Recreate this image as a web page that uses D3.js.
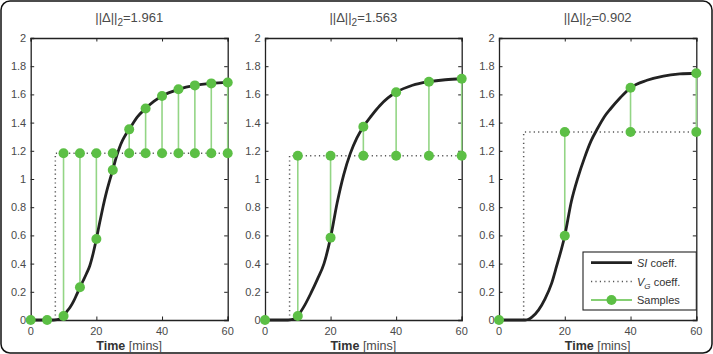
<!DOCTYPE html>
<html>
<head>
<meta charset="utf-8">
<script src="https://cdn.jsdelivr.net/npm/d3@7"></script>
<style>
  html, body { margin: 0; padding: 0; background: #fff; }
  svg { display: block; font-family: "Liberation Sans", Arial, Helvetica, sans-serif; }
</style>
</head>
<body>
<svg id="chart" width="713" height="354"></svg>
<script>
// ---------- DATA ----------
const titles = ["1.961", "1.563", "0.902"];
const xTicks = [0, 20, 40, 60];
const yTicks = [0, 0.2, 0.4, 0.6, 0.8, 1, 1.2, 1.4, 1.6, 1.8, 2];
const yTickLabels = ["0", "0.2", "0.4", "0.6", "0.8", "1", "1.2", "1.4", "1.6", "1.8", "2"];

// SI coefficient curves (time in mins, value)
const siTime1 = [0, 7, 8, 9, 10, 11, 12, 13, 14, 15, 16, 17, 18, 19, 20, 21, 22, 23, 24, 25, 26, 27, 28, 29, 30, 32.5, 35, 37.5, 40, 45, 50, 55, 60];
const siVal1  = [0, 0, 0.002, 0.01, 0.03, 0.06, 0.09, 0.13, 0.18, 0.232, 0.28, 0.33, 0.385, 0.47, 0.574, 0.69, 0.80, 0.90, 0.985, 1.064, 1.15, 1.22, 1.275, 1.318, 1.352, 1.44, 1.50, 1.55, 1.589, 1.636, 1.664, 1.678, 1.685];
const siTime2 = [0, 7, 8, 9, 10, 12, 14, 16, 18, 20, 22, 24, 26, 28, 30, 32.5, 35, 37.5, 40, 45, 50, 55, 60];
const siVal2  = [0, 0, 0.002, 0.01, 0.03, 0.10, 0.19, 0.29, 0.40, 0.584, 0.83, 1.03, 1.18, 1.29, 1.371, 1.45, 1.52, 1.575, 1.615, 1.665, 1.69, 1.704, 1.711];
const siTime3 = [0, 8, 9, 10, 12, 14, 16, 17.5, 20, 22, 24, 26, 28, 30, 32, 34, 37, 40, 45, 50, 55, 60];
const siVal3  = [0, 0, 0.005, 0.02, 0.07, 0.15, 0.26, 0.38, 0.598, 0.84, 1.01, 1.15, 1.27, 1.36, 1.44, 1.50, 1.58, 1.647, 1.70, 1.73, 1.745, 1.75];

// V_G coefficient step (onset time, level)
const vgOnset = [7.5, 7.5, 7.5];
const vgLevel = [1.182, 1.165, 1.333];

// Samples: times, SI value at sample, V_G value at sample
const sampleTime1 = [0, 5, 10, 15, 20, 25, 30, 35, 40, 45, 50, 55, 60];
const sampleSI1   = [0, 0, 0.028, 0.232, 0.574, 1.064, 1.352, 1.50, 1.589, 1.636, 1.664, 1.678, 1.685];
const sampleVG1   = [0, 0, 1.182, 1.182, 1.182, 1.182, 1.182, 1.182, 1.182, 1.182, 1.182, 1.182, 1.182];
const sampleTime2 = [0, 10, 20, 30, 40, 50, 60];
const sampleSI2   = [0, 0.028, 0.584, 1.371, 1.615, 1.69, 1.711];
const sampleVG2   = [0, 1.165, 1.165, 1.165, 1.165, 1.165, 1.165];
const sampleTime3 = [0, 20, 40, 60];
const sampleSI3   = [0, 0.598, 1.647, 1.75];
const sampleVG3   = [0, 1.333, 1.333, 1.333];

const legendLabels = ["SI", "coeff.", "V", "G", "coeff.", "Samples"];

// ---------- LAYOUT ----------
const panels = [
  {x0: 30.7, x1: 227.7, siT: siTime1, siV: siVal1, sT: sampleTime1, sSI: sampleSI1, sVG: sampleVG1},
  {x0: 265,  x1: 461.7, siT: siTime2, siV: siVal2, sT: sampleTime2, sSI: sampleSI2, sVG: sampleVG2},
  {x0: 499,  x1: 696.3, siT: siTime3, siV: siVal3, sT: sampleTime3, sSI: sampleSI3, sVG: sampleVG3}
];
const yTop = 38, yBot = 320;
const markerColor = "#5cbf45";
const stemColor = "#93d585";
const textColor = "#4a4a4a";
const axisColor = "#222";

const svg = d3.select("#chart");

// outer frame
svg.append("rect").attr("x", 1).attr("y", 1).attr("width", 711).attr("height", 352)
  .attr("rx", 9).attr("fill", "none").attr("stroke", "#111").attr("stroke-width", 1.5);

panels.forEach((p, i) => {
  const x = d3.scaleLinear().domain([0, 60]).range([p.x0, p.x1]);
  const y = d3.scaleLinear().domain([0, 2]).range([yBot, yTop]);
  const g = svg.append("g");

  // axes box with inward ticks
  const tl = 3.5;
  const axB = g.append("g").attr("transform", `translate(0,${yBot})`)
    .call(d3.axisBottom(x).tickValues(xTicks).tickSize(-tl).tickFormat(""));
  const axT = g.append("g").attr("transform", `translate(0,${yTop})`)
    .call(d3.axisTop(x).tickValues(xTicks).tickSize(-tl).tickFormat(""));
  const axL = g.append("g").attr("transform", `translate(${p.x0},0)`)
    .call(d3.axisLeft(y).tickValues(yTicks).tickSize(-tl).tickFormat(""));
  const axR = g.append("g").attr("transform", `translate(${p.x1},0)`)
    .call(d3.axisRight(y).tickValues(yTicks).tickSize(-tl).tickFormat(""));
  [axB, axT, axL, axR].forEach(a => {
    a.select(".domain").attr("stroke", axisColor).attr("stroke-width", 1.3);
    a.selectAll(".tick line").attr("stroke", axisColor).attr("stroke-width", 1);
  });

  // tick labels
  g.selectAll(".xlab").data(xTicks).enter().append("text")
    .attr("x", d => x(d)).attr("y", 335).attr("text-anchor", "middle")
    .attr("font-size", 11).attr("fill", textColor).text(d => d);
  g.selectAll(".ylab").data(yTicks).enter().append("text")
    .attr("x", p.x0 - 4.5).attr("y", d => y(d) + 4).attr("text-anchor", "end")
    .attr("font-size", 11).attr("fill", textColor).text((d, k) => yTickLabels[k]);

  // x axis label
  const xl = g.append("text").attr("x", (p.x0 + p.x1) / 2).attr("y", 350)
    .attr("text-anchor", "middle").attr("font-size", 12.5).attr("fill", "#333");
  xl.append("tspan").attr("font-weight", "bold").text("Time");
  xl.append("tspan").attr("fill", textColor).text(" [mins]");

  // title
  const tt = g.append("text").attr("x", (p.x0 + p.x1) / 2).attr("y", 22)
    .attr("text-anchor", "middle").attr("font-size", 13).attr("fill", textColor);
  tt.append("tspan").text("||\u0394||");
  tt.append("tspan").attr("font-size", 10).attr("dy", 4).text("2");
  tt.append("tspan").attr("dy", -4).text("=" + titles[i]);

  // V_G coefficient (dotted step)
  const vgPts = [[vgOnset[i], 0], [vgOnset[i], vgLevel[i]], [60, vgLevel[i]]];
  g.append("path").datum(vgPts)
    .attr("d", d3.line().x(d => x(d[0])).y(d => y(d[1])))
    .attr("fill", "none").attr("stroke", "#555").attr("stroke-width", 1.5)
    .attr("stroke-dasharray", "1.2,3.2");

  // stems
  g.selectAll(".stem").data(p.sT.map((t, k) => ({t, a: p.sSI[k], b: p.sVG[k]})))
    .enter().append("line")
    .attr("x1", d => x(d.t)).attr("x2", d => x(d.t))
    .attr("y1", d => y(d.a)).attr("y2", d => y(d.b))
    .attr("stroke", stemColor).attr("stroke-width", 1.6);

  // SI curve
  const siPts = p.siT.map((t, k) => [t, p.siV[k]]);
  g.append("path").datum(siPts)
    .attr("d", d3.line().x(d => x(d[0])).y(d => y(d[1])).curve(d3.curveMonotoneX))
    .attr("fill", "none").attr("stroke", "#222").attr("stroke-width", 2.8)
    .attr("stroke-linejoin", "round");

  // markers
  const markers = [];
  p.sT.forEach((t, k) => {
    markers.push([t, p.sVG[k]]);
    if (p.sSI[k] !== p.sVG[k]) markers.push([t, p.sSI[k]]);
  });
  g.selectAll(".mk").data(markers).enter().append("circle")
    .attr("cx", d => x(d[0])).attr("cy", d => y(d[1])).attr("r", 5)
    .attr("fill", markerColor);
});

// legend
const lg = svg.append("g");
lg.append("rect").attr("x", 583).attr("y", 252).attr("width", 113.3).attr("height", 58)
  .attr("fill", "#fff").attr("stroke", "#222").attr("stroke-width", 1.1);
const rowY = [262.7, 281.5, 300];
lg.append("line").attr("x1", 591).attr("x2", 632).attr("y1", rowY[0]).attr("y2", rowY[0])
  .attr("stroke", "#222").attr("stroke-width", 2.8);
lg.append("line").attr("x1", 591).attr("x2", 632).attr("y1", rowY[1]).attr("y2", rowY[1])
  .attr("stroke", "#555").attr("stroke-width", 1.5).attr("stroke-dasharray", "1.2,3.2");
lg.append("line").attr("x1", 591).attr("x2", 632).attr("y1", rowY[2]).attr("y2", rowY[2])
  .attr("stroke", markerColor).attr("stroke-width", 1.3);
lg.append("circle").attr("cx", 611.5).attr("cy", rowY[2]).attr("r", 5).attr("fill", markerColor);

const t1 = lg.append("text").attr("x", 637).attr("y", rowY[0] + 4).attr("font-size", 11).attr("fill", "#333");
t1.append("tspan").attr("font-style", "italic").text(legendLabels[0]);
t1.append("tspan").text(" " + legendLabels[1]);
const t2 = lg.append("text").attr("x", 637).attr("y", rowY[1] + 4).attr("font-size", 11).attr("fill", "#333");
t2.append("tspan").attr("font-style", "italic").text(legendLabels[2]);
t2.append("tspan").attr("font-style", "italic").attr("font-size", 8).attr("dy", 3).text(legendLabels[3]);
t2.append("tspan").attr("dy", -3).text(" " + legendLabels[4]);
lg.append("text").attr("x", 637).attr("y", rowY[2] + 4).attr("font-size", 11).attr("fill", "#333")
  .text(legendLabels[5]);
</script>
</body>
</html>
